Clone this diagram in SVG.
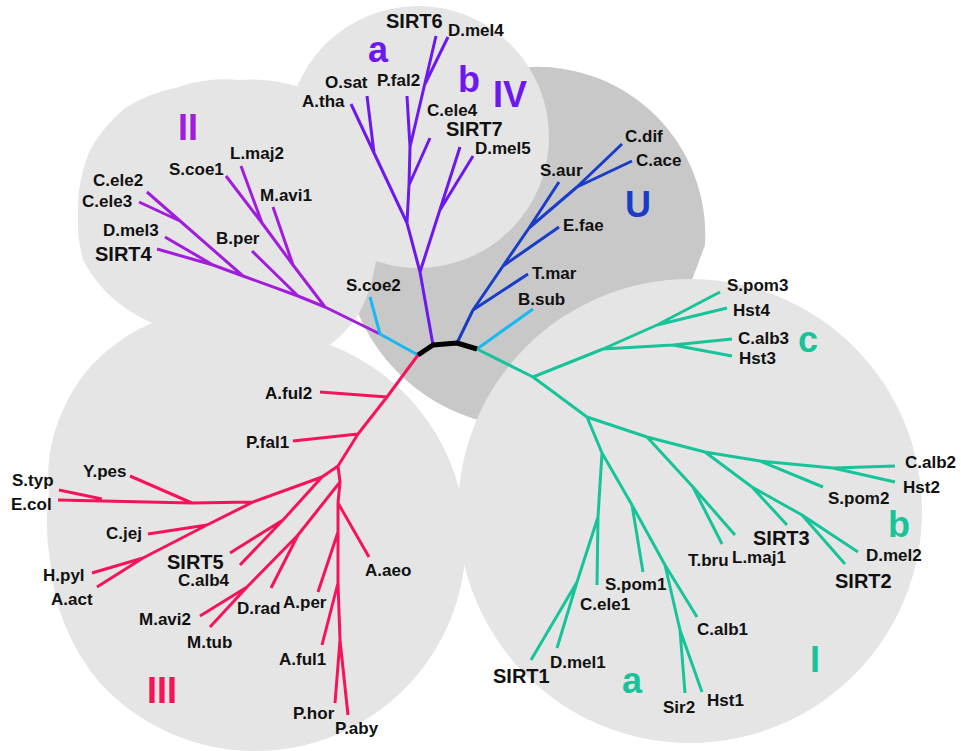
<svg xmlns="http://www.w3.org/2000/svg" width="961" height="751" viewBox="0 0 961 751">
<style>
.lt{fill:#e5e5e5}
.dk{fill:#c8c8c8}
.br{fill:none;stroke-width:3;stroke-linejoin:round}
.iv{stroke:#6e18f0}
.ii{stroke:#a21cdc}
.u{stroke:#1a3dc8}
.cy{stroke:#18b8f2}
.gr{stroke:#17c49a}
.rd{stroke:#f5145a}
.root{fill:none;stroke:#000;stroke-width:5;stroke-linejoin:round}
text{font-family:"Liberation Sans",Arial,Helvetica,sans-serif;font-weight:bold;fill:#111}
.sp{font-size:17px}
.sirt{font-size:20px}
.cl{font-size:36px}
.civ{fill:#6e18f0}
.cii{fill:#a21cdc}
.cu{fill:#1a3dc8}
.cg{fill:#17c49a}
.cr{fill:#f5145a}
</style>
<rect width="961" height="751" fill="#fff"/>
<g id="background">
<path class="dk" d="M530,67 A168 168 0 0 1 705,245 L640,420 L500,460 L500,425 A187 187 0 0 1 350,290 L372,215 L450,150 Z"/>
<circle class="lt" cx="418" cy="137" r="131"/>
<path class="lt" d="M152,323 A150 150 0 0 1 107,293 A150 150 0 0 1 83,260 A150 150 0 0 1 78,215 A150 150 0 0 1 90,150 A150 150 0 0 1 125,108 A150 150 0 0 1 175,88 A150 150 0 0 1 240,80 A150 150 0 0 1 296,86 L340,110 L372,180 L378,222 A150 150 0 0 1 375,266 A150 150 0 0 1 357,317 A150 150 0 0 1 330,345 L250,335 Z"/>
<path class="lt" d="M152,323 L240,300 L330,345 A211 211 0 0 1 466,540 A211 211 0 0 1 255,751 A211 211 0 0 1 100,683 A211 211 0 0 1 50,560 A211 211 0 0 1 49,493 A160 160 0 0 1 63,410 A160 160 0 0 1 117,343 A160 160 0 0 1 152,323 Z"/>
<circle class="lt" cx="690" cy="511" r="232"/>
</g>
<g id="connectors">
<path class="br iv" d="M433,345 L420,272 L407,223 L351,104 M374,153 L367,96 M407,223 L409,185 L410,147 L407,96 M409,185 L430,138 M410,147 L436,36 M425,84 L448,37 M420,272 L460,147 M440,210 L473,156"/>
<path class="br ii" d="M380,334 L325,307 L298,296 L243,276 L213,265 L157,249 M213,265 L165,237 M243,276 L147,192 M180,221 L139,202 M298,296 L252,251 M325,307 L293,265 L262,223 L226,176 M293,265 L273,207 M262,223 L241,166"/>
<path class="br u" d="M457,343 L473,310 L503,266 L529,228 L577,187 L622,144 M473,310 L528,274 M503,266 L559,227 M529,228 L559,182 M577,187 L632,161"/>
<path class="br cy" d="M418,355 L380,334 L370,297 M477,349 L533,309"/>
<path class="br gr" d="M477,349 L533,377 L587,417 M533,377 L603,349 L657,325 L720,292 M657,325 L727,308 M603,349 L673,345 L732,339 M673,345 L732,356 M587,417 L647,437 L705,452 L760,461 L833,468 L895,466 M833,468 L895,482 M760,461 L823,487 M647,437 L693,487 L722,544 M693,487 L735,535 M705,452 L752,487 L787,525 M752,487 L802,515 L858,552 M802,515 L845,564 M587,417 L602,453 L598,517 L597,585 M598,517 L577,582 L531,660 M577,582 L557,648 M602,453 L632,505 L665,565 L697,617 M632,505 L643,572 M665,565 L680,630 L685,693 M680,630 L702,692"/>
<path class="br rd" d="M418,355 L387,397 L358,434 L338,466 L340,482 L338,503 L338,532 L338,583 L340,640 L335,703 M340,640 L348,715 M387,397 L320,392 M358,434 L293,441 M338,466 L322,477 L253,502 L192,503 L58,500 M102,499 L59,490 M192,503 L130,476 M253,502 L207,525 L143,558 L97,587 M207,525 L148,534 M143,558 L92,573 M322,477 L283,520 L240,565 M283,520 L230,553 M340,482 L298,535 L247,587 L210,627 M298,535 L271,588 M247,587 L200,616 M338,503 L369,557 M338,532 L318,592 M338,583 L322,645"/>
<path class="root" d="M418,355 L433,345 L457,343 L477,349"/>
</g>
<g id="clade-IV"><text class="cl civ" x="368" y="62">a</text><text class="cl civ" x="458" y="92">b</text><text class="cl civ" x="493" y="107">IV</text></g>
<g id="clade-II"><text class="cl cii" x="178" y="140">II</text></g>
<g id="clade-U"><text class="cl cu" x="625" y="217">U</text></g>
<g id="clade-I"><text class="cl cg" x="798" y="352">c</text><text class="cl cg" x="888" y="537">b</text><text class="cl cg" x="622" y="693">a</text><text class="cl cg" x="810" y="672">I</text></g>
<g id="clade-III"><text class="cl cr" x="147" y="703">III</text></g>
<g id="n-SIRT6"><text class="sirt" x="386" y="28">SIRT6</text></g>
<g id="n-Dmel4"><text class="sp" x="448" y="36">D.mel4</text></g>
<g id="n-Osat"><text class="sp" x="325" y="88">O.sat</text></g>
<g id="n-Pfal2"><text class="sp" x="377" y="86">P.fal2</text></g>
<g id="n-Atha"><text class="sp" x="302" y="107">A.tha</text></g>
<g id="n-Cele4"><text class="sp" x="427" y="116">C.ele4</text></g>
<g id="n-SIRT7"><text class="sirt" x="446" y="136">SIRT7</text></g>
<g id="n-Dmel5"><text class="sp" x="475" y="154">D.mel5</text></g>
<g id="n-Lmaj2"><text class="sp" x="230" y="159">L.maj2</text></g>
<g id="n-Scoe1"><text class="sp" x="169" y="175">S.coe1</text></g>
<g id="n-Mavi1"><text class="sp" x="260" y="201">M.avi1</text></g>
<g id="n-Cele2"><text class="sp" x="93" y="186">C.ele2</text></g>
<g id="n-Cele3"><text class="sp" x="82" y="207">C.ele3</text></g>
<g id="n-Dmel3"><text class="sp" x="103" y="236">D.mel3</text></g>
<g id="n-SIRT4"><text class="sirt" x="95" y="261">SIRT4</text></g>
<g id="n-Bper"><text class="sp" x="216" y="244">B.per</text></g>
<g id="n-Scoe2"><text class="sp" x="346" y="291">S.coe2</text></g>
<g id="n-Cdif"><text class="sp" x="625" y="142">C.dif</text></g>
<g id="n-Cace"><text class="sp" x="636" y="166">C.ace</text></g>
<g id="n-Saur"><text class="sp" x="540" y="176">S.aur</text></g>
<g id="n-Efae"><text class="sp" x="563" y="231">E.fae</text></g>
<g id="n-Tmar"><text class="sp" x="532" y="279">T.mar</text></g>
<g id="n-Bsub"><text class="sp" x="518" y="305">B.sub</text></g>
<g id="n-Spom3"><text class="sp" x="727" y="291">S.pom3</text></g>
<g id="n-Hst4"><text class="sp" x="733" y="316">Hst4</text></g>
<g id="n-Calb3"><text class="sp" x="738" y="344">C.alb3</text></g>
<g id="n-Hst3"><text class="sp" x="739" y="364">Hst3</text></g>
<g id="n-Calb2"><text class="sp" x="905" y="468">C.alb2</text></g>
<g id="n-Hst2"><text class="sp" x="903" y="493">Hst2</text></g>
<g id="n-Spom2"><text class="sp" x="828" y="504">S.pom2</text></g>
<g id="n-Dmel2"><text class="sp" x="866" y="561">D.mel2</text></g>
<g id="n-SIRT2"><text class="sirt" x="835" y="588">SIRT2</text></g>
<g id="n-SIRT3"><text class="sirt" x="753" y="545">SIRT3</text></g>
<g id="n-Tbru"><text class="sp" x="688" y="566">T.bru</text></g>
<g id="n-Lmaj1"><text class="sp" x="732" y="563">L.maj1</text></g>
<g id="n-Spom1"><text class="sp" x="605" y="590">S.pom1</text></g>
<g id="n-Cele1"><text class="sp" x="580" y="610">C.ele1</text></g>
<g id="n-Calb1"><text class="sp" x="697" y="635">C.alb1</text></g>
<g id="n-Dmel1"><text class="sp" x="550" y="668">D.mel1</text></g>
<g id="n-SIRT1"><text class="sirt" x="493" y="683">SIRT1</text></g>
<g id="n-Sir2"><text class="sp" x="663" y="713">Sir2</text></g>
<g id="n-Hst1"><text class="sp" x="707" y="706">Hst1</text></g>
<g id="n-Aful2"><text class="sp" x="265" y="399">A.ful2</text></g>
<g id="n-Pfal1"><text class="sp" x="246" y="448">P.fal1</text></g>
<g id="n-Ypes"><text class="sp" x="83" y="477">Y.pes</text></g>
<g id="n-Styp"><text class="sp" x="12" y="486">S.typ</text></g>
<g id="n-Ecol"><text class="sp" x="11" y="510">E.col</text></g>
<g id="n-Cjej"><text class="sp" x="106" y="539">C.jej</text></g>
<g id="n-SIRT5"><text class="sirt" x="167" y="569">SIRT5</text></g>
<g id="n-Calb4"><text class="sp" x="178" y="586">C.alb4</text></g>
<g id="n-Hpyl"><text class="sp" x="43" y="581">H.pyl</text></g>
<g id="n-Aact"><text class="sp" x="51" y="605">A.act</text></g>
<g id="n-Mavi2"><text class="sp" x="139" y="625">M.avi2</text></g>
<g id="n-Mtub"><text class="sp" x="187" y="648">M.tub</text></g>
<g id="n-Drad"><text class="sp" x="237" y="614">D.rad</text></g>
<g id="n-Aper"><text class="sp" x="283" y="608">A.per</text></g>
<g id="n-Aaeo"><text class="sp" x="365" y="576">A.aeo</text></g>
<g id="n-Aful1"><text class="sp" x="279" y="665">A.ful1</text></g>
<g id="n-Phor"><text class="sp" x="293" y="719">P.hor</text></g>
<g id="n-Paby"><text class="sp" x="335" y="734">P.aby</text></g>
</svg>
